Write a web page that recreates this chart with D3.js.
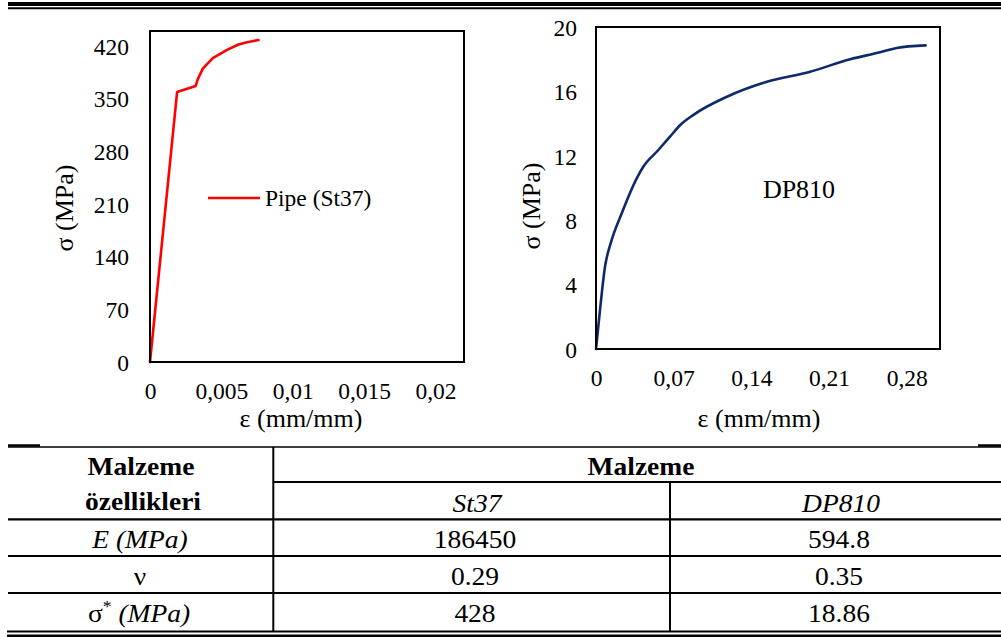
<!DOCTYPE html>
<html>
<head>
<meta charset="utf-8">
<script src="https://cdn.jsdelivr.net/npm/d3@7"></script>
<style>
  html, body { margin: 0; padding: 0; background: #fff; }
  svg { display: block; }
</style>
</head>
<body>
<svg id="fig" width="1001" height="637"></svg>
<script>
// St37 pipe: stress-strain curve
const pipeStrain = [0, 0.0019, 0.0032, 0.00335, 0.0037, 0.0044, 0.0054, 0.0062, 0.0068, 0.0076];
const pipeStress = [0, 359, 367, 376, 390, 404, 415, 422, 425, 428];

// DP810: stress-strain curve
const dpStrain = [0, 0.0036, 0.0081, 0.0132, 0.0232, 0.0367, 0.0426, 0.0562, 0.0667, 0.0757, 0.0875, 0.118, 0.154, 0.193, 0.229, 0.256, 0.271, 0.297];
const dpStress = [0, 2.42, 5.11, 6.56, 8.43, 10.6, 11.32, 12.36, 13.19, 13.9, 14.53, 15.67, 16.6, 17.22, 18.0, 18.43, 18.7, 18.86];

// axis ticks
const pipeXTicks = [0, 0.005, 0.01, 0.015, 0.02];
const pipeYTicks = [0, 70, 140, 210, 280, 350, 420];
const dpXTicks = [0, 0.07, 0.14, 0.21, 0.28];
const dpYTicks = [0, 4, 8, 12, 16, 20];

// material property table
const tableColumns = ["St37", "DP810"];
const eModulus = ["186450", "594.8"];
const poisson = ["0.29", "0.35"];
const yieldStress = ["428", "18.86"];

const SERIF = "Liberation Serif";
const TICK_FS = 23.5, TITLE_FS = 26;
const svg = d3.select("#fig");
svg.append("rect").attr("width", 1001).attr("height", 637).attr("fill", "#fff");

const commaFmt = v => String(v).replace(".", ",");

// text placed at an anchor point, optionally widened horizontally
function label(parent, x, y, txt, o = {}) {
  const t = parent.append("text")
    .attr("transform", `translate(${x},${y})${o.rotate ? ` rotate(${o.rotate})` : ""} scale(${o.sx || 1},1)`)
    .attr("text-anchor", o.anchor || "middle")
    .attr("font-size", o.size || TICK_FS);
  if (o.weight) t.attr("font-weight", o.weight);
  if (o.italic) t.attr("font-style", "italic");
  if (txt !== null) t.text(txt);
  return t;
}

function drawPanel(opts) {
  const { x0, x1, y0, y1, xDomain, yDomain, xTicks, yTicks, xs, ys, color, curve,
          yLabelX, xLabelY, xTitle, yTitle } = opts;
  const x = d3.scaleLinear().domain(xDomain).range([x0, x1]);
  const y = d3.scaleLinear().domain(yDomain).range([y1, y0]);
  const g = svg.append("g");

  // tick labels via axes (no tick lines)
  const xAxis = d3.axisBottom(x).tickValues(xTicks).tickSize(0).tickPadding(0).tickFormat(commaFmt);
  const gx = g.append("g").attr("transform", `translate(0,${y1})`).call(xAxis);
  gx.select(".domain").remove();
  gx.selectAll("text").attr("dy", null).attr("y", xLabelY - y1);

  const yAxis = d3.axisLeft(y).tickValues(yTicks).tickSize(0).tickPadding(0);
  const gy = g.append("g").attr("transform", `translate(${yLabelX},0)`).call(yAxis);
  gy.select(".domain").remove();
  gy.selectAll("text").attr("dy", "0.35em").attr("x", 0);

  [gx, gy].forEach(a => {
    a.attr("font-family", null).attr("font-size", null);
    a.selectAll("text").attr("fill", "#000").attr("font-size", TICK_FS);
  });

  // series
  const line = d3.line().x(i => x(xs[i])).y(i => y(ys[i])).curve(curve);
  g.append("path").attr("d", line(d3.range(xs.length)))
    .attr("fill", "none").attr("stroke", color).attr("stroke-width", 2.6)
    .attr("stroke-linejoin", "round").attr("stroke-linecap", "round");

  // plot frame
  g.append("rect").attr("x", x0).attr("y", y0).attr("width", x1 - x0).attr("height", y1 - y0)
    .attr("fill", "none").attr("stroke", "#000").attr("stroke-width", 2);

  // axis titles
  label(g, xTitle.x, xTitle.y, "ε (mm/mm)", { size: TITLE_FS });
  label(g, yTitle.x, yTitle.y, "σ (MPa)", { size: TITLE_FS, rotate: -90 });
  return { x, y, g };
}

const left = drawPanel({
  x0: 150, x1: 464, y0: 31, y1: 362,
  xDomain: [0, 0.022], yDomain: [0, 440],
  xTicks: pipeXTicks, yTicks: pipeYTicks, xs: pipeStrain, ys: pipeStress,
  color: "#ff0000", curve: d3.curveLinear,
  yLabelX: 129, xLabelY: 399,
  xTitle: { x: 301, y: 427 }, yTitle: { x: 73, y: 208 }
});

// legend inside left panel
left.g.append("line").attr("x1", 208).attr("x2", 260).attr("y1", 198).attr("y2", 198)
  .attr("stroke", "#ff0000").attr("stroke-width", 2.6);
label(left.g, 265, 206, "Pipe (St37)", { anchor: "start" });

const right = drawPanel({
  x0: 596, x1: 940, y0: 27, y1: 349,
  xDomain: [0, 0.31], yDomain: [0, 20],
  xTicks: dpXTicks, yTicks: dpYTicks, xs: dpStrain, ys: dpStress,
  color: "#0f2a6b", curve: d3.curveMonotoneX,
  yLabelX: 577, xLabelY: 386,
  xTitle: { x: 759, y: 427 }, yTitle: { x: 540, y: 206 }
});
label(right.g, 799, 198, "DP810", { size: 26 });

// rules
function hline(x1, x2, y, w) {
  svg.append("line").attr("x1", x1).attr("x2", x2).attr("y1", y).attr("y2", y)
    .attr("stroke", "#000").attr("stroke-width", w);
}
function vline(x, y1, y2, w) {
  svg.append("line").attr("x1", x).attr("x2", x).attr("y1", y1).attr("y2", y2)
    .attr("stroke", "#000").attr("stroke-width", w);
}
hline(8, 1001, 4, 4);
hline(8, 1001, 8.3, 2);

// table
const tbl = svg.append("g");
hline(8, 1001, 447, 1.5);
hline(8, 40, 445.5, 2.5);
hline(978, 1001, 445.5, 2.5);
hline(273, 1001, 482, 2);
hline(8, 1001, 519.3, 2.2);
hline(8, 1001, 556, 2.2);
hline(8, 1001, 593, 2.2);
hline(7, 1001, 631.5, 2);
hline(7, 1001, 636, 3);
vline(273.3, 447, 631, 2);
vline(670, 482, 631, 2);

const colX = [475, 839];
const rowBase = [548, 585, 622];
const T = { size: 25, sx: 1.1 };

label(tbl, 141, 475, "Malzeme", { ...T, weight: "bold" });
label(tbl, 143, 510, "özellikleri", { ...T, weight: "bold" });
label(tbl, 641, 475, "Malzeme", { ...T, weight: "bold" });
tableColumns.forEach((c, i) => label(tbl, colX[i] + 2, 512, c, { ...T, italic: true }));

// row headers
label(tbl, 140, rowBase[0], "E (MPa)", { ...T, italic: true });
label(tbl, 140, rowBase[1], "ν", T);
const rS = label(tbl, 139, rowBase[2], null, T);
rS.append("tspan").text("σ");
rS.append("tspan").attr("font-size", 16).attr("dy", -10).text("*");
rS.append("tspan").attr("dy", 10).attr("font-style", "italic").text(" (MPa)");

[eModulus, poisson, yieldStress].forEach((vals, r) => {
  vals.forEach((v, i) => label(tbl, colX[i], rowBase[r], v, T));
});

// serif face for every label
svg.selectAll("text").style("font-family", SERIF);
</script>
</body>
</html>
